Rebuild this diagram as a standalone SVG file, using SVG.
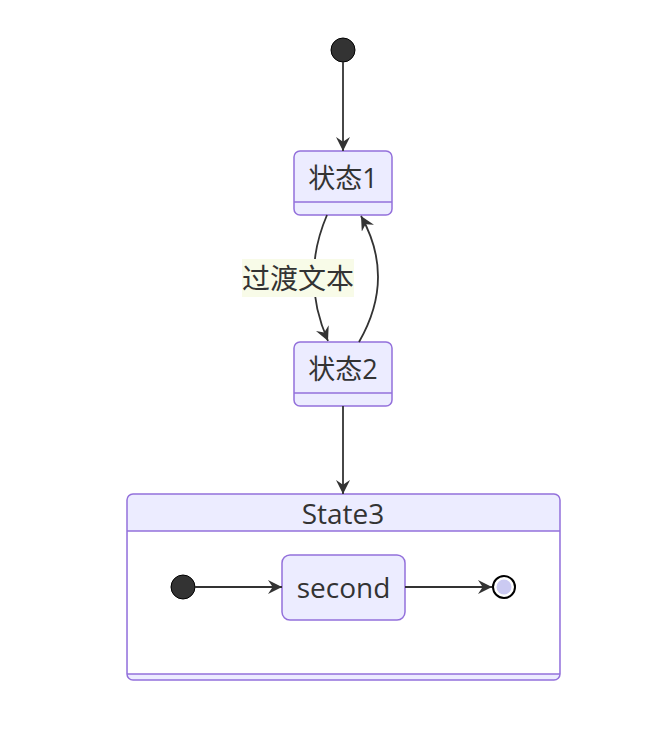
<svg xmlns="http://www.w3.org/2000/svg" width="665" height="732" viewBox="0 0 665 732">
<style>
.box{fill:#ECECFF;stroke:#9370DB;stroke-width:1.5}
.div{stroke:#9370DB;stroke-width:1.5;fill:none}
.edge{fill:none;stroke:#333;stroke-width:1.8}
.lbl{font-family:"Open Sans","Noto Sans CJK SC",sans-serif;fill:#333;text-anchor:middle;dominant-baseline:central}
.start{fill:#333;stroke:#000;stroke-width:1}
</style>
<defs>
<marker id="arr" viewBox="0 0 12 12" refX="12" refY="6" markerWidth="14" markerHeight="14" markerUnits="userSpaceOnUse" orient="auto">
<path d="M0,0 L12,6 L0,12 L4,6 z" fill="#333"/>
</marker>
</defs>
<rect width="665" height="732" fill="#fff"/>
<g id="State3">
<rect class="box" x="127" y="494" width="433" height="186" rx="6"/>
<rect x="128" y="531" width="431" height="143" fill="#fff"/>
<line class="div" x1="127" y1="531" x2="560" y2="531"/>
<line class="div" x1="127" y1="674" x2="560" y2="674"/>
<text class="lbl" x="343" y="513" font-size="28">State3</text>
</g>
<g id="start">
<circle class="start" cx="343" cy="50" r="12"/>
</g>
<g id="s1">
<rect class="box" x="294" y="151" width="98" height="64" rx="6"/>
<line class="div" x1="294" y1="202" x2="392" y2="202"/>
<text class="lbl" x="343" y="177" font-size="27">状态1</text>
</g>
<g id="s2">
<rect class="box" x="294" y="342" width="98" height="64" rx="6"/>
<line class="div" x1="294" y1="393" x2="392" y2="393"/>
<text class="lbl" x="343" y="368" font-size="27">状态2</text>
</g>
<g id="inner-start">
<circle class="start" cx="183" cy="587" r="12"/>
</g>
<g id="second">
<rect class="box" x="282" y="555" width="123" height="65" rx="8"/>
<text class="lbl" x="343.5" y="587" font-size="28">second</text>
</g>
<g id="inner-end">
<circle cx="504" cy="587" r="11" fill="#fff" stroke="#000" stroke-width="2"/>
<circle cx="504" cy="587" r="7.5" fill="#CBCAF2"/>
</g>
<g id="edges">
<path class="edge" d="M343,62 L343,151" marker-end="url(#arr)"/>
<path class="edge" d="M327,215 Q300,278 328,341" marker-end="url(#arr)"/>
<path class="edge" d="M359,342 Q396,278 361,216" marker-end="url(#arr)"/>
<path class="edge" d="M343,406 L343,494" marker-end="url(#arr)"/>
<path class="edge" d="M195,587 L282,587" marker-end="url(#arr)"/>
<path class="edge" d="M405,587 L492,587" marker-end="url(#arr)"/>
<g id="edge-label">
<rect x="242" y="259" width="112" height="38" fill="#F8FBE8"/>
<text class="lbl" x="298" y="278" font-size="28">过渡文本</text>
</g>
</g>
</svg>
